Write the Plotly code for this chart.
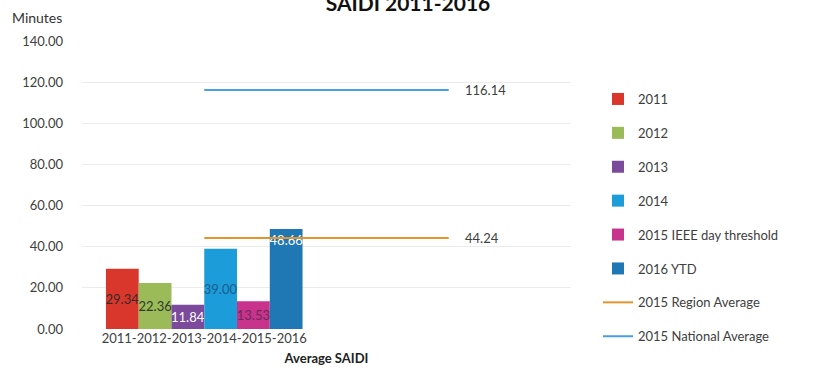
import plotly.graph_objects as go

category = "2011-2012-2013-2014-2015-2016"
bar_names = ["2011", "2012", "2013", "2014", "2015 IEEE day threshold", "2016 YTD"]
bar_values = [29.34, 22.36, 11.84, 39.00, 13.53, 48.66]
bar_colors = ["#d9372b", "#9bbb59", "#7b4a9b", "#1c9cd8", "#c8338c", "#1f78b4"]
label_colors = ["#3a2a2a", "#2f3a2a", "#ffffff", "#1b5d8f", "#6a2a5a", "#ffffff"]
label_anchor = ["middle", "middle", "middle", "middle", "middle", "end"]

line_names = ["2015 Region Average", "2015 National Average"]
line_values = [44.24, 116.14]
line_colors = ["#e4942c", "#4a9fe0"]

y_ticks = [0, 20, 40, 60, 80, 100, 120, 140]

FONT = "Lato"
fig = go.Figure()

cats = [category, " "]
for i, (n, v, c, lc, a) in enumerate(zip(bar_names, bar_values, bar_colors, label_colors, label_anchor)):
    fig.add_trace(go.Bar(
        x=[category], y=[v], name=n, marker=dict(color=c, line=dict(width=0)),
        text=[f"{v:.2f}"], textposition="inside", insidetextanchor=a,
        constraintext="none", textangle=0,
        textfont=dict(color=lc, size=13, family=FONT),
        legendgroup=f"g{i}",
    ))

for j, (n, v, c) in enumerate(zip(line_names, line_values, line_colors)):
    fig.add_trace(go.Scatter(
        x=cats, y=[v, v], mode="lines", name=n,
        line=dict(color=c, width=2), legendgroup=f"l{j}",
    ))
    fig.add_annotation(x=1, y=v, xref="x", yref="y", text=f"{v:.2f}",
                       showarrow=False, xanchor="left", xshift=14,
                       font=dict(size=13, color="#404040", family=FONT))

fig.update_layout(
    width=816, height=391,
    margin=dict(l=82, r=245, t=41, b=62),
    paper_bgcolor="white", plot_bgcolor="white",
    font=dict(family=FONT, size=13, color="#404040"),
    barmode="group", bargap=0.196, bargroupgap=0,
    title=dict(text="<b>SAIDI 2011-2016</b>", x=408/816, xanchor="center",
               y=1 - 4/391, yanchor="middle", yref="container",
               font=dict(size=21, color="#111111", family=FONT)),
    showlegend=True,
    legend=dict(x=(598 - 82) / 489, xanchor="left", y=(329 - 84) / 288, yanchor="top",
                tracegroupgap=14, font=dict(size=13, color="#404040", family=FONT),
                traceorder="grouped", itemwidth=30),
    xaxis=dict(type="category", categoryorder="array", categoryarray=cats,
               range=[-0.5, 1.5], showgrid=False, showline=False, zeroline=False,
               ticks="", tickfont=dict(size=13, color="#404040"),
               title=dict(text="<b>Average SAIDI</b>", font=dict(size=13, color="#222222"),
                          standoff=8)),
    yaxis=dict(range=[0, 140], tickvals=y_ticks, ticktext=[f"{t:.2f}" for t in y_ticks],
               showgrid=True, gridcolor="#ececec", gridwidth=1, zeroline=False,
               showline=False, ticks="", ticklabelstandoff=18,
               tickfont=dict(size=13, color="#404040")),
)

fig.add_annotation(x=-72 / 489, y=1 + 23 / 288, xref="paper", yref="paper",
                   text="Minutes", showarrow=False, xanchor="left", yanchor="middle",
                   font=dict(size=14, color="#333333", family=FONT))

fig.write_html("out.html")
